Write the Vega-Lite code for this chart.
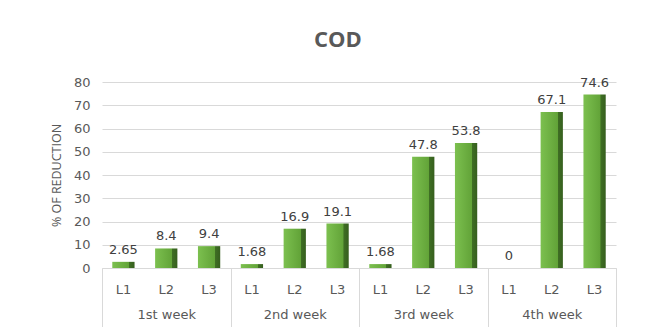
{
  "$schema": "https://vega.github.io/schema/vega-lite/v6.json",
  "width": 514,
  "height": 186,
  "autosize": {"type": "none"},
  "padding": {"left": 102, "top": 82, "right": 36, "bottom": 59},
  "background": "white",
  "title": {"text": "COD", "fontSize": 22, "font": "Open Sans", "fontWeight": "bold", "color": "#595959", "dx": -21, "offset": 24},
  "config": {"view": {"stroke": null}},
  "data": {"values": [
    {"week": "1st week", "level": "L1", "value": 2.65},
    {"week": "1st week", "level": "L2", "value": 8.4},
    {"week": "1st week", "level": "L3", "value": 9.4},
    {"week": "2nd week", "level": "L1", "value": 1.68},
    {"week": "2nd week", "level": "L2", "value": 16.9},
    {"week": "2nd week", "level": "L3", "value": 19.1},
    {"week": "3rd week", "level": "L1", "value": 1.68},
    {"week": "3rd week", "level": "L2", "value": 47.8},
    {"week": "3rd week", "level": "L3", "value": 53.8},
    {"week": "4th week", "level": "L1", "value": 0},
    {"week": "4th week", "level": "L2", "value": 67.1},
    {"week": "4th week", "level": "L3", "value": 74.6}
  ]},
  "encoding": {
    "x": {
      "field": "week", "type": "nominal",
      "sort": ["1st week", "2nd week", "3rd week", "4th week"],
      "scale": {"paddingInner": 0, "paddingOuter": 0},
      "axis": {
        "title": null, "tickBand": "extent", "tickSize": 60, "tickColor": "#d9d9d9",
        "domainColor": "#d9d9d9", "labelPadding": -20, "labelAngle": 0,
        "labelFont": "DejaVu Sans", "labelFontSize": 13, "labelColor": "#595959", "grid": false
      }
    },
    "xOffset": {
      "field": "level", "type": "nominal", "sort": ["L1", "L2", "L3"],
      "scale": {"paddingInner": 0.48, "paddingOuter": 0.24}
    },
    "y": {
      "field": "value", "type": "quantitative",
      "scale": {"domain": [0, 80]},
      "axis": {
        "values": [0, 10, 20, 30, 40, 50, 60, 70, 80], "labelOverlap": false,
        "title": "% OF REDUCTION", "titleFont": "Open Sans", "titleFontSize": 12.5,
        "titleFontWeight": "normal", "titleColor": "#595959", "titlePadding": 10,
        "labelFont": "DejaVu Sans", "labelFontSize": 13, "labelColor": "#595959",
        "labelPadding": 12, "ticks": false, "domain": false, "gridColor": "#d9d9d9"
      }
    }
  },
  "layer": [
    {
      "mark": {
        "type": "bar",
        "color": {
          "gradient": "linear", "x1": 0, "x2": 1, "y1": 0, "y2": 0,
          "stops": [
            {"offset": 0, "color": "#7cc04f"},
            {"offset": 0.76, "color": "#62a338"},
            {"offset": 0.77, "color": "#3f6f24"},
            {"offset": 1, "color": "#365f1e"}
          ]
        }
      }
    },
    {
      "mark": {"type": "text", "baseline": "bottom", "dy": -5, "font": "DejaVu Sans", "fontSize": 13, "color": "#404040"},
      "encoding": {
        "text": {"field": "value", "type": "nominal"}
      }
    },
    {
      "mark": {"type": "text", "baseline": "middle", "dy": 22, "font": "DejaVu Sans", "fontSize": 13, "color": "#595959"},
      "encoding": {
        "y": {"datum": 0},
        "text": {"field": "level", "type": "nominal"}
      }
    }
  ]
}
